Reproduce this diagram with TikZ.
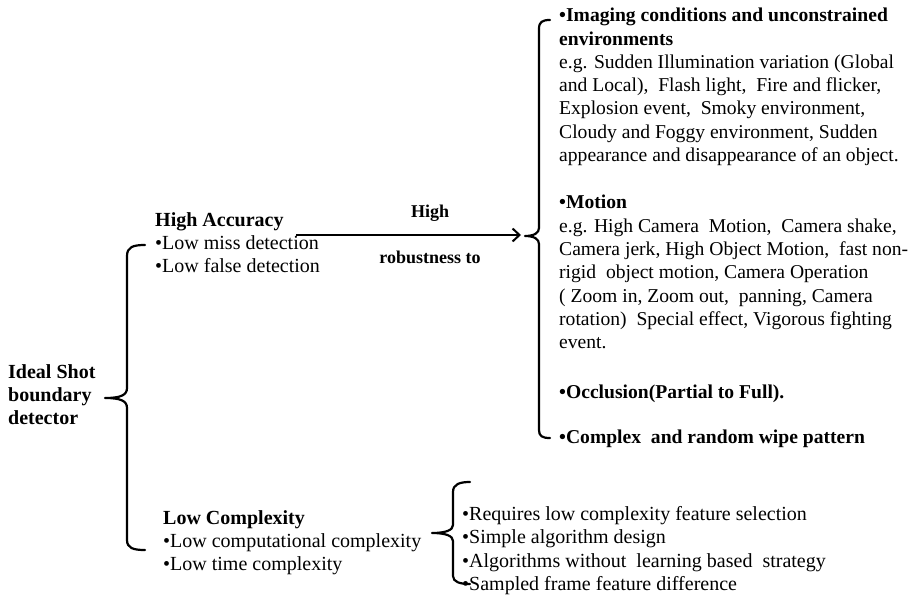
\documentclass[tikz,border=0pt]{standalone}
\usepackage{fontspec}
\setmainfont{Liberation Serif}
\usetikzlibrary{arrows.meta}
\begin{document}
\begin{tikzpicture}[x=1pt,y=-1pt,
  txt/.style={anchor=north west,inner sep=0pt,align=left,font=\fontsize{20}{23.4}\selectfont},
  rtxt/.style={txt,font=\fontsize{19.6}{23.3}\selectfont},
  btxt/.style={txt,font=\fontsize{20}{23.4}\selectfont\bfseries},
  rbtxt/.style={txt,font=\fontsize{19.6}{23.3}\selectfont\bfseries},
  lbl/.style={inner sep=0pt,font=\fontsize{18}{20}\selectfont\bfseries},
  bracefx/.style={line width=2.2pt,line cap=round,line join=round},
  conn/.style={line width=2pt,-{Straight Barb[length=7pt,width=13pt,line width=2pt]}}]
\useasboundingbox (0,0) rectangle (917,596);
% left root
\node[btxt] (ideal) at (8,364) {Ideal Shot\\boundary\\detector};
% high accuracy
\node[txt] (ha) at (155,212) {\textbf{High Accuracy}\\•Low miss detection\\•Low false detection};
% low complexity
\node[txt] (lc) at (163,510) {\textbf{Low Complexity}\\•Low computational complexity\\•Low time complexity};
% right items
\node[rtxt] (img) at (559,8) {\textbf{•Imaging conditions and unconstrained}\\\textbf{environments}\\e.g. Sudden Illumination variation (Global\\and Local),\ \ Flash light,\ \ Fire and flicker,\\Explosion event,\ \ Smoky environment,\\Cloudy and Foggy environment, Sudden\\appearance and disappearance of an object.};
\node[rtxt] (mot) at (559,195) {\textbf{•Motion}\\e.g. High Camera\ \ Motion,\ \ Camera shake,\\Camera jerk, High Object Motion,\ \ fast non-\\rigid\ \ object motion, Camera Operation\\( Zoom in, Zoom out,\ \ panning, Camera\\rotation)\ \ Special effect, Vigorous fighting\\event.};
\node[rbtxt] (occ) at (559,385) {•Occlusion(Partial to Full).};
\node[rbtxt] (cmp) at (559,430) {•Complex\ \ and random wipe pattern};
% low complexity details
\node[txt] (lcd) at (462,506) {•Requires low complexity feature selection\\•Simple algorithm design\\•Algorithms without\ \ learning based\ \ strategy\\•Sampled frame feature difference};
% arrow labels
\node[lbl] (hi) at (430,213) {High};
\node[lbl] (rob) at (430,257) {robustness to};
% brace tips
\coordinate (tipA) at (105,398);
\coordinate (tipB) at (525,236);
\coordinate (tipC) at (432,533);
\coordinate (arrs) at (296,235);
\coordinate (arre) at (521,235);
% braces
\draw[bracefx] (145,245) .. controls (133,245) and (127,247) .. (127,256) -- (127,388)
  .. controls (127,395) and (121,398) .. (tipA) .. controls (121,398) and (127,401) .. (127,408)
  -- (127,540) .. controls (127,548) and (133,550) .. (145,550);
\draw[bracefx] (550,20) .. controls (542,20) and (539,22) .. (539,29) -- (539,228)
  .. controls (539,233) and (534,236) .. (tipB) .. controls (534,236) and (539,239) .. (539,244)
  -- (539,430) .. controls (539,436) and (542,438) .. (550,438);
\draw[bracefx] (470,482) .. controls (460,482) and (453,484) .. (453,492) -- (453,525)
  .. controls (453,530) and (446,533) .. (tipC) .. controls (446,533) and (453,536) .. (453,541)
  -- (453,576) .. controls (453,582) and (460,584) .. (470,584);
% arrow
\draw[conn] (arrs) -- (arre);
\end{tikzpicture}
\end{document}
